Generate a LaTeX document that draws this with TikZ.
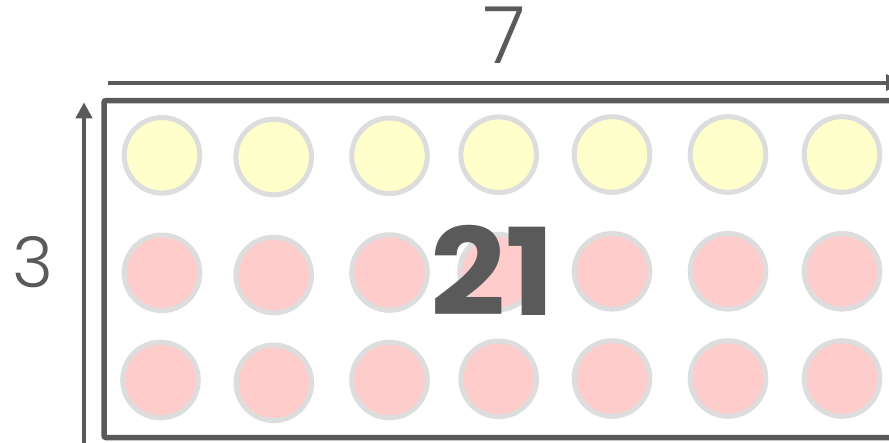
\documentclass[tikz,border=0pt]{standalone}
\usepackage{fontspec}
\setmainfont{Poppins}
\newfontfamily\numlight{Poppins Light}
\newfontfamily\numbold{Poppins Bold}
\usetikzlibrary{arrows.meta}
\definecolor{ink}{HTML}{5A5A5A}
\definecolor{ring}{HTML}{DDDDDD}
\definecolor{yel}{HTML}{FFFFCC}
\definecolor{pnk}{HTML}{FFCCCC}
\tikzset{
  dot/.style={circle, draw=ring, line width=5pt, minimum size=75.6pt, inner sep=0pt},
  ydot/.style={dot, fill=yel},
  pdot/.style={dot, fill=pnk},
  dimarrow/.style={draw=ink, line width=4pt, -{Triangle[length=16pt,width=16pt]}},
  frame/.style={draw=ink, line width=5.5pt, rounded corners=2pt},
  lbl/.style={text=ink, inner sep=0pt, font=\numlight}
}
\begin{document}
\begin{tikzpicture}[x=1pt,y=-1pt]
\useasboundingbox (0,0) rectangle (889,442);
\clip (0,0) rectangle (889,442);
\fill[white] (0,0) rectangle (889,442);
% frame
\draw[frame] (104,100.5) rectangle (930,437.5);
% dimension arrows
\coordinate (hs) at (108,82.5);
\coordinate (he) at (902,82.5);
\coordinate (vs) at (84,470);
\coordinate (ve) at (84,102.3);
\draw[dimarrow] (hs) -- (he);
\draw[dimarrow] (vs) -- (ve);
% row 1
\node[ydot] (c11) at (162,155.3) {};
\node[ydot] (c12) at (273.7,157) {};
\node[ydot] (c13) at (389.5,155.8) {};
\node[ydot] (c14) at (498.7,154.7) {};
\node[ydot] (c15) at (612,154.5) {};
\node[ydot] (c16) at (728,154.5) {};
\node[ydot] (c17) at (842,154.5) {};
% row 2
\node[pdot] (c21) at (162,272.8) {};
\node[pdot] (c22) at (273.7,275) {};
\node[pdot] (c23) at (389.5,272.5) {};
\node[pdot] (c24) at (497.5,272) {};
\node[pdot] (c25) at (612,271.3) {};
\node[pdot] (c26) at (728,271.3) {};
\node[pdot] (c27) at (842,271.3) {};
% row 3
\node[pdot] (c31) at (160.5,380) {};
\node[pdot] (c32) at (273.8,382.8) {};
\node[pdot] (c33) at (389.5,380) {};
\node[pdot] (c34) at (498.7,378.8) {};
\node[pdot] (c35) at (612,378.5) {};
\node[pdot] (c36) at (728,378.5) {};
\node[pdot] (c37) at (842,378.5) {};
% labels
\node[lbl, font=\numlight\fontsize{79}{79}\selectfont] (w) at (505,35) {7};
\node[lbl, font=\numlight\fontsize{70}{70}\selectfont] (h) at (33,262.5) {3};
\node[lbl, font=\numbold\fontsize{121}{121}\selectfont, xscale=1.09] (n) at (493,270.5) {21};
\end{tikzpicture}
\end{document}
